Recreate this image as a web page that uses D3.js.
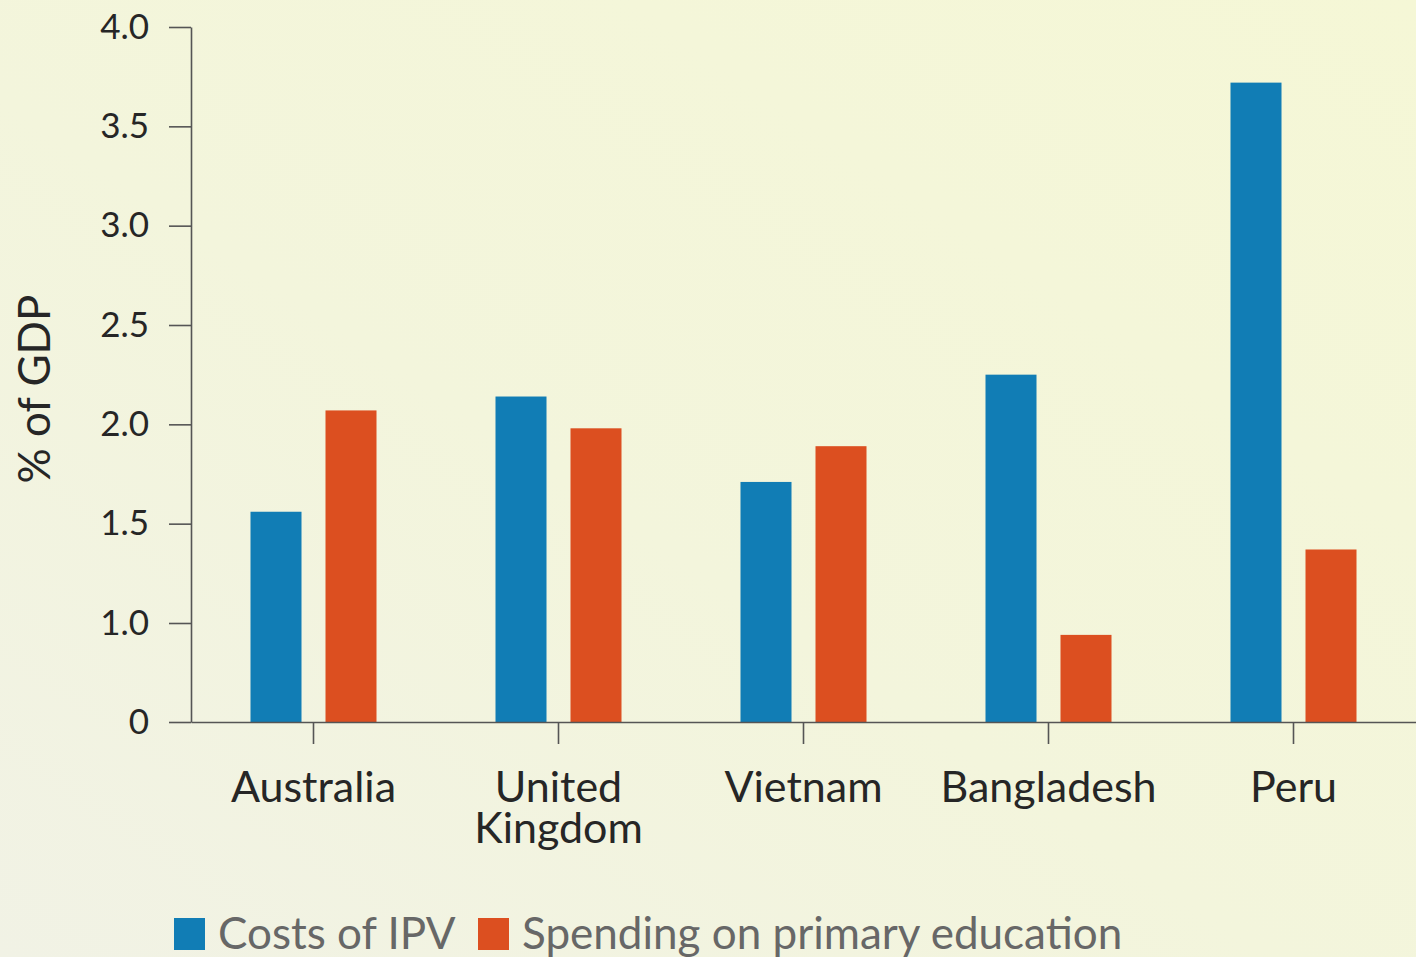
<!DOCTYPE html>
<html>
<head>
<meta charset="utf-8">
<script src="https://cdn.jsdelivr.net/npm/d3@7"></script>
<style>
  html, body { margin: 0; padding: 0; overflow: hidden; }
  svg { display: block; }
  .axis path, .axis line { stroke: #555; stroke-width: 1.6; }
  .axis text { font-family: Lato, sans-serif; fill: #262626; }
</style>
</head>
<body>
<div id="chart"></div>
<script>
// data
const categories = ['Australia', 'United Kingdom', 'Vietnam', 'Bangladesh', 'Peru']
const categoryLines = [['Australia'], ['United', 'Kingdom'], ['Vietnam'], ['Bangladesh'], ['Peru']]
const ipvCosts = [1.56, 2.14, 1.71, 2.25, 3.72]
const primaryEdu = [2.07, 1.98, 1.89, 0.88, 1.37]
const seriesNames = ['Costs of IPV', 'Spending on primary education']
const seriesColors = ['#117db5', '#dc4f20']
const yTicks = [0, 1.0, 1.5, 2.0, 2.5, 3.0, 3.5, 4.0]
const yTitle = '% of GDP'

const WIDTH = 1416
const HEIGHT = 957

const svg = d3.select('#chart').append('svg')
  .attr('width', WIDTH)
  .attr('height', HEIGHT)

// pale paper background
const defs = svg.append('defs')
const grad = defs.append('linearGradient')
  .attr('id', 'bg')
  .attr('x1', 0).attr('y1', 1).attr('x2', 1).attr('y2', 0)
grad.append('stop').attr('offset', '0%').attr('stop-color', '#f1f2e5')
grad.append('stop').attr('offset', '45%').attr('stop-color', '#f3f5dc')
grad.append('stop').attr('offset', '100%').attr('stop-color', '#f5f7d6')
svg.append('rect')
  .attr('width', WIDTH).attr('height', HEIGHT)
  .attr('fill', 'url(#bg)')

// axis is broken between 0 and 1.0, so the scale is piecewise
const y = d3.scaleLinear()
  .domain([0, 1, 4])
  .range([722, 623, 27])

const x0 = d3.scaleBand()
  .domain(categories)
  .range([191, 1416])
  .padding(0)

const x1 = d3.scaleBand()
  .domain(seriesNames)
  .range([x0.bandwidth() / 2 - 63, x0.bandwidth() / 2 + 63])
  .paddingInner(0.32)

const rows = categories.map((c, i) => ({
  category: c,
  values: [ipvCosts[i], primaryEdu[i]]
}))

// bars
const groups = svg.selectAll('g.cat')
  .data(rows)
  .enter()
  .append('g')
  .attr('class', 'cat')
  .attr('transform', d => `translate(${x0(d.category)},0)`)

groups.selectAll('rect')
  .data(d => d.values.map((v, j) => ({ key: seriesNames[j], value: v, color: seriesColors[j] })))
  .enter()
  .append('rect')
  .attr('x', d => x1(d.key))
  .attr('width', x1.bandwidth())
  .attr('y', d => y(d.value))
  .attr('height', d => y(0) - y(d.value))
  .attr('fill', d => d.color)

// y axis
const yAxis = svg.append('g')
  .attr('class', 'axis')
  .attr('transform', 'translate(191,0)')
  .call(d3.axisLeft(y)
    .tickValues(yTicks)
    .tickSize(22)
    .tickSizeOuter(0)
    .tickPadding(20)
    .tickFormat(d => d === 0 ? '0' : d.toFixed(1)))
yAxis.selectAll('text').style('font-size', '35px')

// x axis
const xAxis = svg.append('g')
  .attr('class', 'axis')
  .attr('transform', `translate(0,${y(0)})`)
  .call(d3.axisBottom(x0).tickSize(22).tickSizeOuter(0))

xAxis.selectAll('.tick text').remove()
xAxis.selectAll('.tick')
  .append('text')
  .attr('text-anchor', 'middle')
  .style('font-size', '43px')
  .each(function (d, i) {
    const t = d3.select(this)
    categoryLines[i].forEach((line, k) => {
      t.append('tspan')
        .attr('x', 0)
        .attr('y', 80 + k * 41)
        .text(line)
    })
  })

// y title
svg.append('text')
  .attr('transform', 'translate(50,389) rotate(-90)')
  .attr('text-anchor', 'middle')
  .style('font-family', 'Lato, sans-serif')
  .style('font-size', '44px')
  .style('fill', '#262626')
  .text(yTitle)

// legend
const legendX = [174, 478]
const legend = svg.selectAll('g.legend')
  .data(seriesNames)
  .enter()
  .append('g')
  .attr('class', 'legend')
  .attr('transform', (d, i) => `translate(${legendX[i]},918)`)

legend.append('rect')
  .attr('width', 31)
  .attr('height', 32)
  .attr('fill', (d, i) => seriesColors[i])

legend.append('text')
  .attr('x', 44)
  .attr('y', 31)
  .style('font-family', 'Lato, sans-serif')
  .style('font-size', '44px')
  .style('fill', '#676767')
  .text(d => d)
</script>
</body>
</html>
